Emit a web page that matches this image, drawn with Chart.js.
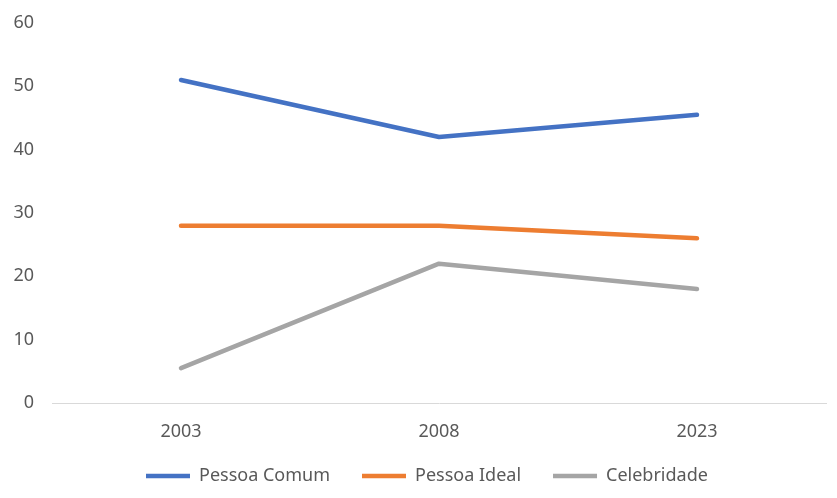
<!DOCTYPE html>
<html>
<head>
<meta charset="utf-8">
<script src="https://cdn.jsdelivr.net/npm/chart.js@4/dist/chart.umd.min.js"></script>
<style>
    html, body { margin: 0; padding: 0; background: #fff; }
    #wrap { width: 837px; height: 498px; }
</style>
</head>
<body>
<div id="wrap"><canvas id="lineChart"></canvas></div>
<script>
const years = ['2003', '2008', '2023']
const pessoaComum = [51, 42, 45.5]
const pessoaIdeal = [28, 28, 26]
const celebridade = [5.5, 22, 18]

const textColor = '#595959'
const fontFamily = '"Noto Sans", sans-serif'

function series(label, data, color) {
    return {
        label,
        data,
        borderColor: color,
        backgroundColor: color,
        borderWidth: 4.5,
        borderCapStyle: 'round',
        borderJoinStyle: 'round',
        pointRadius: 0,
        pointHoverRadius: 0,
        pointStyle: 'line',
        tension: 0
    }
}

// pin the legend row: starts at a fixed x, sits just under the year labels
const legendPin = {
    id: 'legendPin',
    afterLayout(chart) {
        const legend = chart.legend
        if (!legend) return
        const pad = legend.options.labels.padding
        const w = legend.right - legend.left
        const h = legend.bottom - legend.top
        legend.left = 146 - pad
        legend.right = legend.left + w
        legend.top = 476 - pad - 9
        legend.bottom = legend.top + h
    }
}

new Chart(document.getElementById('lineChart'), {
    type: 'line',
    data: {
        labels: years,
        datasets: [
            series('Pessoa Comum', pessoaComum, '#4472c4'),
            series('Pessoa Ideal', pessoaIdeal, '#ed7d31'),
            series('Celebridade', celebridade, '#a5a5a5')
        ]
    },
    plugins: [legendPin],
    options: {
        responsive: true,
        maintainAspectRatio: false,
        animation: false,
        layout: { padding: { left: 0, right: 11, top: 23, bottom: -10 } },
        plugins: {
            tooltip: { enabled: false },
            legend: {
                position: 'bottom',
                align: 'start',
                labels: {
                    usePointStyle: true,
                    pointStyleWidth: 44,
                    color: textColor,
                    font: { family: fontFamily, size: 18 },
                    padding: 32
                }
            }
        },
        scales: {
            x: {
                offset: true,
                grid: { display: false },
                border: { color: '#d9d9d9', width: 1 },
                ticks: { color: textColor, font: { family: fontFamily, size: 18 }, padding: 10 },
                afterFit(scale) { scale.height = 45 }
            },
            y: {
                min: 0,
                max: 60,
                grid: { display: false },
                border: { display: false },
                ticks: { stepSize: 10, color: textColor, font: { family: fontFamily, size: 18 }, padding: 10 },
                afterFit(scale) { scale.width = 52 }
            }
        }
    }
})
</script>
</body>
</html>
